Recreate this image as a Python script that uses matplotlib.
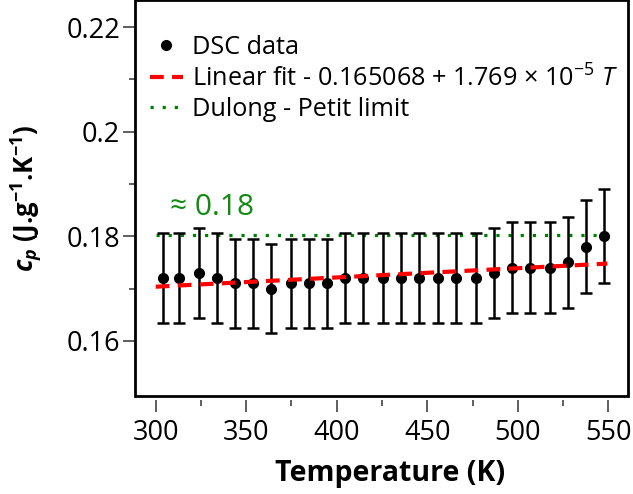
import matplotlib
matplotlib.use("Agg")
import matplotlib.pyplot as plt
from matplotlib.patches import Rectangle
from matplotlib.lines import Line2D

# data
temps = [303.9, 312.9, 323.9, 333.9, 343.8, 353.7, 363.7, 374.7, 384.7, 394.6,
         404.6, 414.5, 425.6, 435.5, 445.5, 456.0, 465.9, 477.0, 486.9, 496.9,
         506.8, 517.9, 527.8, 537.8, 547.7]
cp = [0.172, 0.172, 0.173, 0.172, 0.171, 0.171, 0.170, 0.171, 0.171, 0.171,
      0.172, 0.172, 0.172, 0.172, 0.172, 0.172, 0.172, 0.172, 0.173, 0.174,
      0.174, 0.174, 0.175, 0.178, 0.180]
cp_err = [0.05 * v for v in cp]

fit_a = 0.165068
fit_b = 1.769e-5
fit_range = [300.0, 549.5]
dulong_petit = 0.1803

plt.rcParams["font.family"] = ["Open Sans", "DejaVu Sans"]
plt.rcParams["mathtext.fontset"] = "custom"
plt.rcParams["mathtext.rm"] = "Open Sans"
plt.rcParams["mathtext.it"] = "Open Sans:italic"
plt.rcParams["mathtext.bf"] = "Open Sans:bold"
plt.rcParams["mathtext.bfit"] = "Open Sans:bold:italic"

fig = plt.figure(figsize=(6.33, 4.94), dpi=100)
ax = fig.add_axes([0.2128, 0.1984, 0.7788, 0.8016])

fit_y = [fit_a + fit_b * t for t in fit_range]

ax.errorbar(temps, cp, yerr=cp_err, fmt="o", color="black", ms=7,
            elinewidth=1.8, capsize=4.2, capthick=1.8, zorder=3)
ax.plot(fit_range, fit_y, color="#ff0000", lw=3, dashes=(3.3, 2), zorder=4)
ax.plot(fit_range, [dulong_petit] * 2, color="#008000", lw=2.3, dashes=(1, 2.8), zorder=2)

ax.text(307.8, 0.1856, "≈ 0.18", color="#108a10", fontsize=21.5, va="center")

ax.set_xlim(288.4, 560.7)
ax.set_ylim(0.14949, 0.22516)
ax.set_xticks([300, 350, 400, 450, 500, 550])
ax.set_xticks([325, 375, 425, 475, 525], minor=True)
ax.set_yticks([0.16, 0.18, 0.2, 0.22])
ax.set_yticklabels(["0.16", "0.18", "0.2", "0.22"])
ax.set_yticks([0.17, 0.19, 0.21], minor=True)

for s in ax.spines.values():
    s.set_color("none")
ax.spines["bottom"].set_position(("outward", 3))
ax.add_patch(Rectangle((0, 0), 1, 1, transform=ax.transAxes, fill=False,
                       lw=2, ec="black", clip_on=False, zorder=6))

ax.tick_params(which="major", direction="out", length=8.5, width=1.1,
               color="#333333", labelsize=19.5)
ax.tick_params(which="minor", direction="out", length=4.3, width=1.1, color="#333333")
ax.tick_params(axis="y", which="both", pad=2)
ax.tick_params(axis="x", which="major", pad=5)

ax.set_xlabel("Temperature (K)", fontsize=20.5, fontweight="bold", labelpad=9)
ax.xaxis.label.set_x(0.518)
ax.set_ylabel(r"$\mathbfit{c_p}$ (J.g$^{\mathbf{-1}}$.K$^{\mathbf{-1}}$)",
              fontsize=18.5, fontweight="bold", labelpad=16)

handles = [
    Line2D([], [], ls="none", marker="o", ms=7, color="black"),
    Line2D([], [], color="#ff0000", lw=3, dashes=(3.3, 2)),
    Line2D([], [], color="#008000", lw=2.3, dashes=(1, 2.8)),
]
labels = ["DSC data",
          r"Linear fit - 0.165068 + 1.769 × 10$^{\mathregular{-5}}$ $\mathit{T}$",
          "Dulong - Petit limit"]
ax.legend(handles, labels, loc="upper left", bbox_to_anchor=(0.031, 0.912), frameon=False,
          fontsize=18.2, borderpad=0, borderaxespad=0, handlelength=1.3,
          handletextpad=0.35, labelspacing=0.2)

fig.savefig("out.png", dpi=100)
